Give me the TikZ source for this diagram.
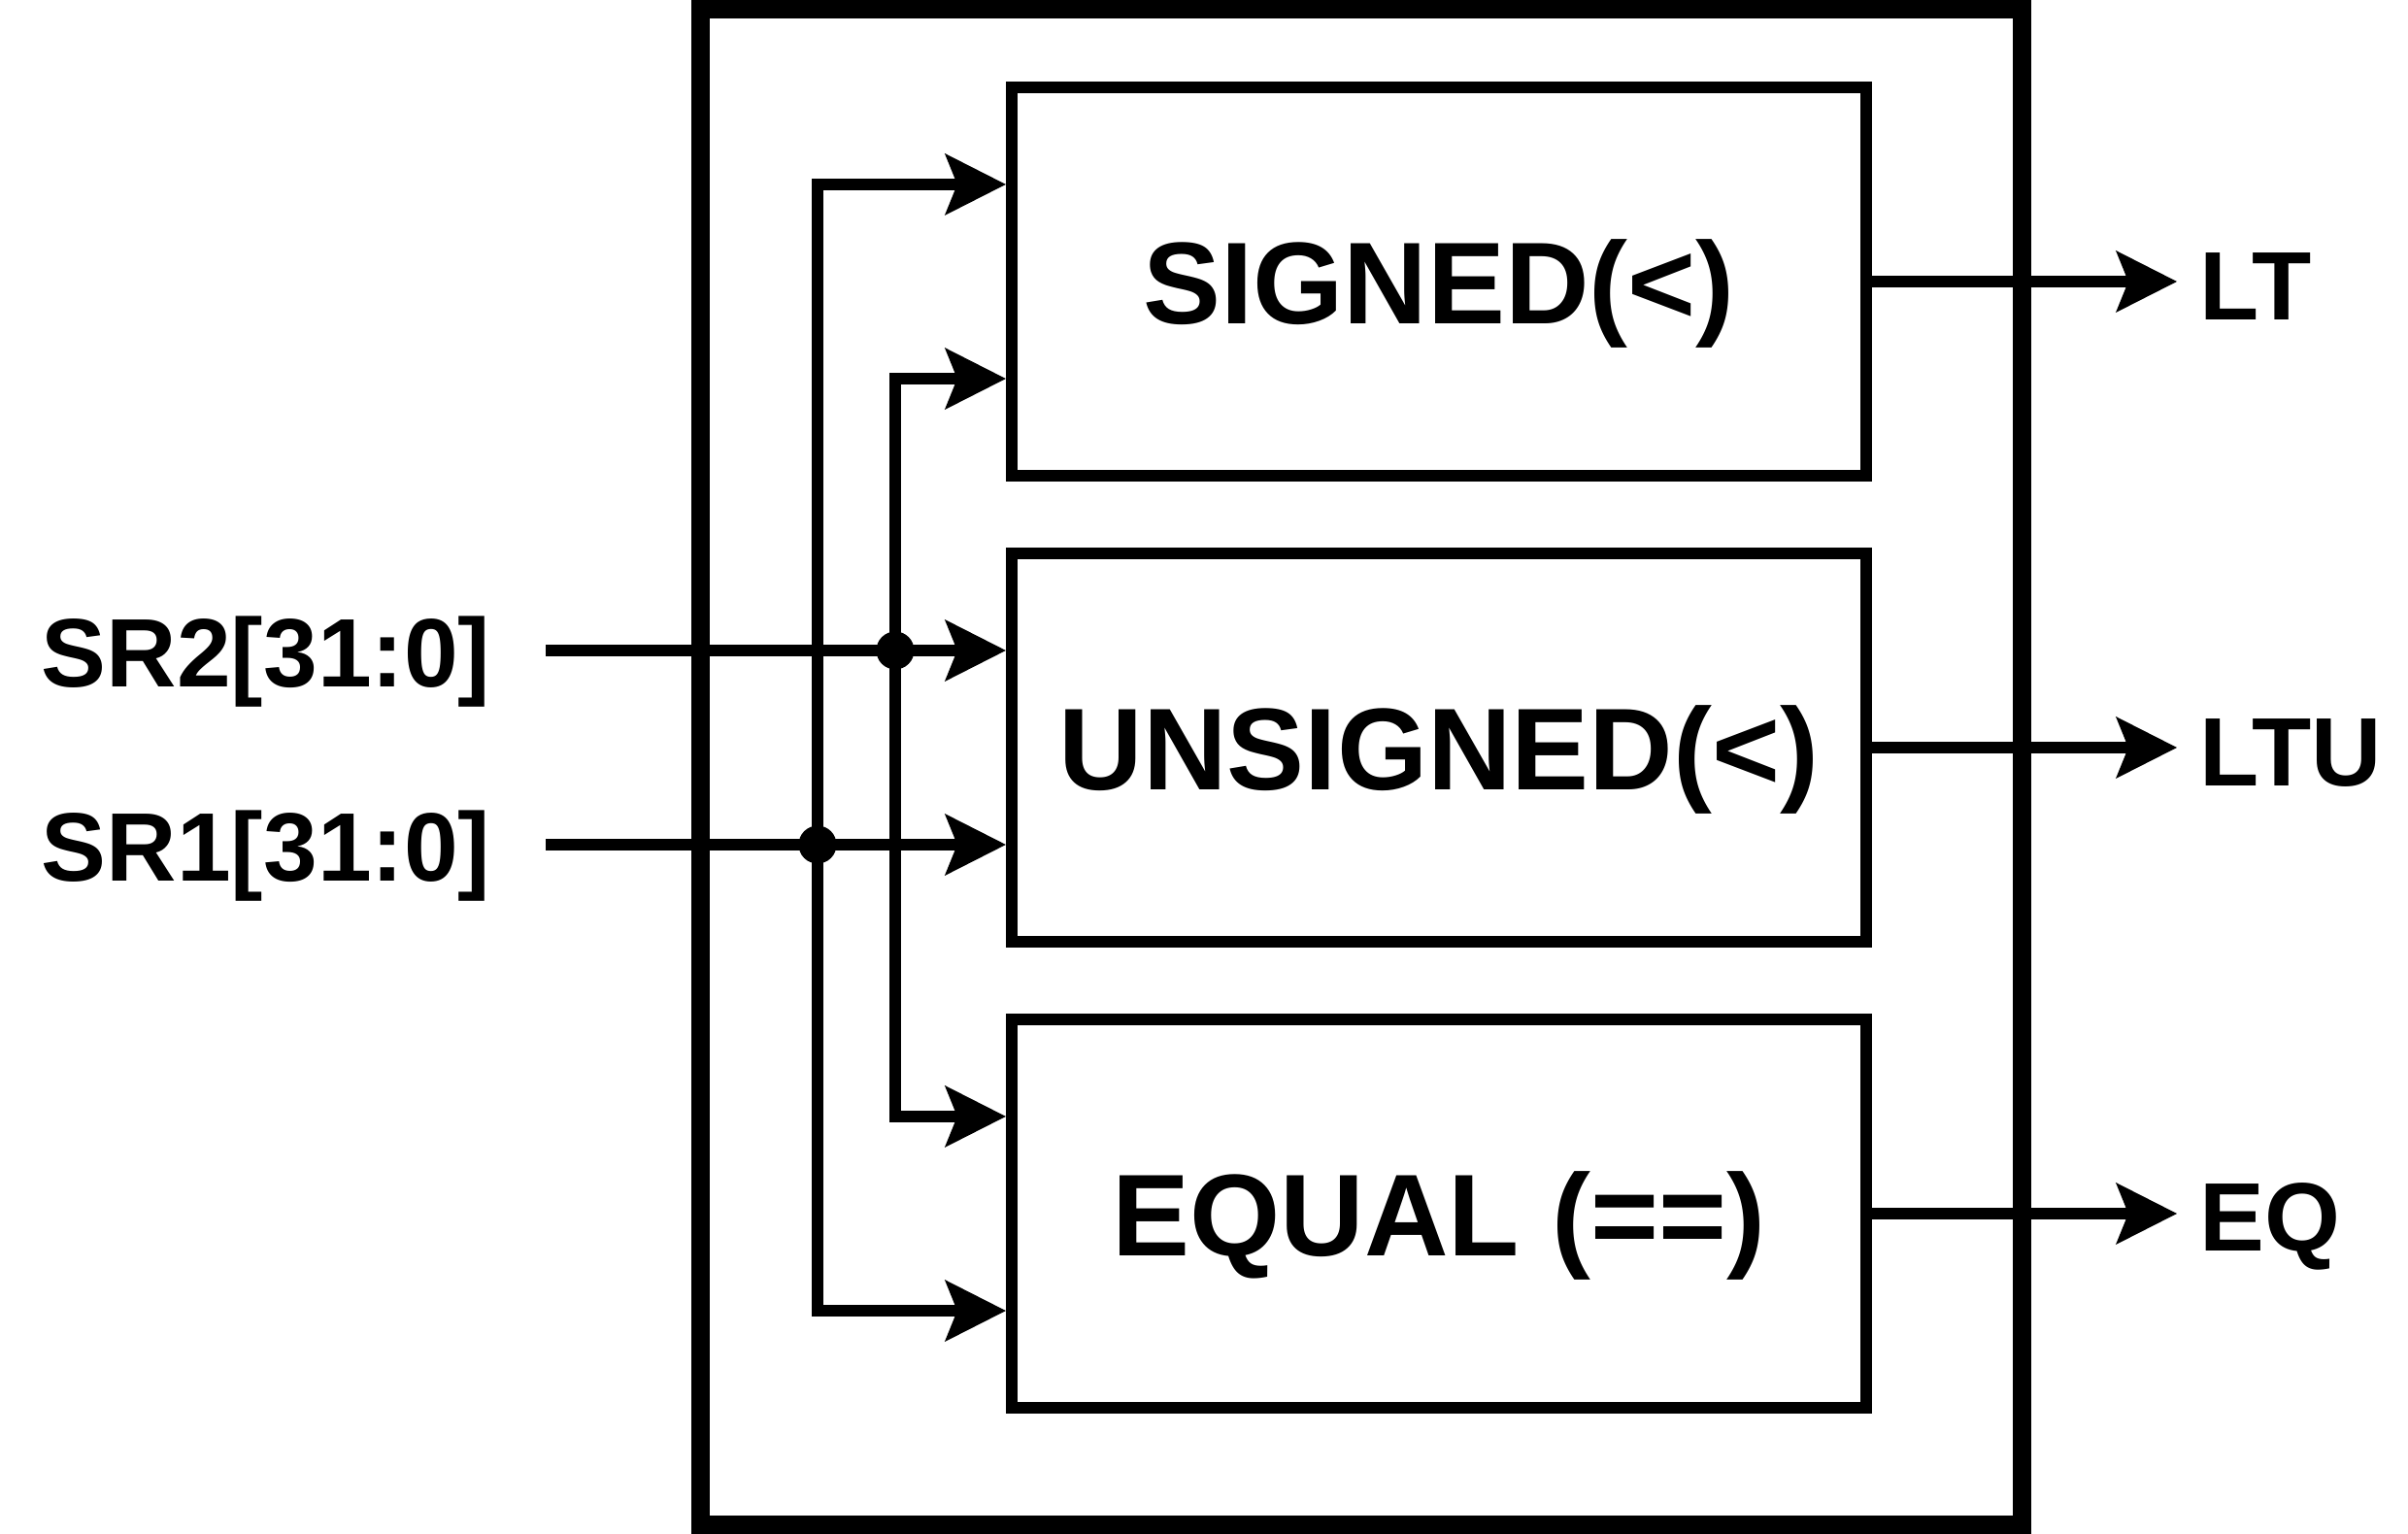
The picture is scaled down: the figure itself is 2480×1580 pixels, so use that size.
\documentclass[tikz,border=0pt]{standalone}
\usepackage{fontspec}
\setmainfont{Liberation Sans}
\usetikzlibrary{arrows.meta,calc}
\begin{document}
\begin{tikzpicture}[x=0.01cm, y=-0.01cm,
  box/.style={draw, line width=0.117cm, minimum width=8.8cm, minimum height=4cm, inner sep=0pt,
    font=\fontsize{34.1}{40}\selectfont\bfseries, text height=0.86cm, text depth=0cm},
  conn/.style={line width=0.117cm, -{Stealth[length=0.63cm, width=0.64cm, inset=0.13cm, line width=0pt]}},
  iolabel/.style={inner sep=0pt, font=\fontsize{28.5}{34}\selectfont\bfseries},
  dot/.style={fill, circle, minimum size=0.39cm, inner sep=0pt}]
\useasboundingbox (0,0) rectangle (2480,1580);
\fill[white] (0,0) rectangle (2480,1580);
% outer block
\node[draw, line width=0.195cm, minimum width=13.6cm, minimum height=15.6cm, inner sep=0pt] (outer) at (1402,790) {};
% comparator boxes
\node[box] (sig) at (1482,290) {SIGNED(<)};
\node[box] (uns) at (1482,770) {UNSIGNED(<)};
\node[box] (eq) at (1482,1250) {EQUAL (==)};
% input labels
\node[iolabel, anchor=base east] (sr2) at (506,708) {SR2[31:0]};
\node[iolabel, anchor=base east] (sr1) at (506,908) {SR1[31:0]};
\coordinate (in2) at (562,670);
\coordinate (in1) at (562,870);
\coordinate (b1) at (842,870);
\coordinate (b2) at (922,670);
% inputs
\draw[conn] (in2) -- (in2 -| uns.west);
\draw[conn] (in1) -- (in1 -| uns.west);
\draw[conn] (b1) |- ([yshift=1cm]sig.west);
\draw[conn] (b1) |- ([yshift=-1cm]eq.west);
\draw[conn] (b2) |- ([yshift=-1cm]sig.west);
\draw[conn] (b2) |- ([yshift=1cm]eq.west);
\node[dot] (d1) at (b1) {};
\node[dot] (d2) at (b2) {};
% outputs
\coordinate (oend) at (2242,0);
\draw[conn] (sig.east) -- (sig.east -| oend);
\draw[conn] (uns.east) -- (uns.east -| oend);
\draw[conn] (eq.east) -- (eq.east -| oend);
\node[iolabel, anchor=base west] (lt) at (2265,330) {LT};
\node[iolabel, anchor=base west] (ltu) at (2265,810) {LTU};
\node[iolabel, anchor=base west] (eqo) at (2265,1289) {EQ};
\end{tikzpicture}
\end{document}
